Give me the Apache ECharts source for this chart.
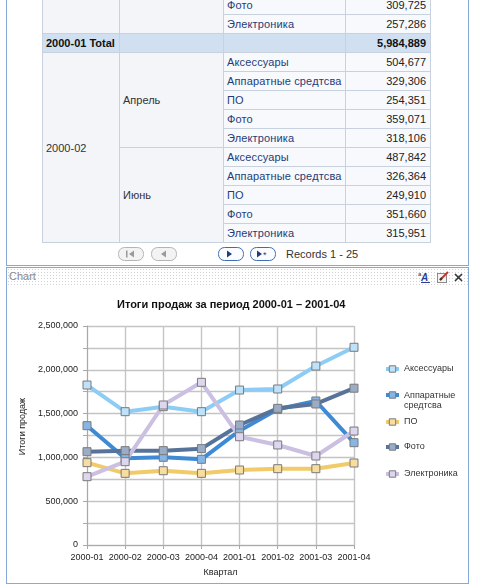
<!DOCTYPE html>
<html>
<head>
<meta charset="utf-8">
<script src="https://cdn.jsdelivr.net/npm/echarts@6/dist/echarts.min.js"></script>
<style>
  html, body { margin: 0; padding: 0; width: 480px; height: 586px; overflow: hidden; background: #fff;
    font-family: 'Liberation Sans', Arial, sans-serif; }
  #tablePanel { position: absolute; left: 6px; top: -10px; width: 461px; height: 275px;
    border: 1px solid #84a9d6; border-top: none; }
  #tbl { position: absolute; left: 42px; top: -5px; width: 388px; border-collapse: collapse;
    table-layout: fixed; font-size: 11px; color: #222; }
  #tbl td { height: 18px; padding: 0 3px; border: 1px solid #c8d1de; white-space: nowrap; overflow: hidden;
    background: #f8f9fc; }
  #tbl td.hd { background: #f3f5f9; color: #333; }
  #tbl td.pr { color: #1f3c78; letter-spacing: 0.15px; }
  #tbl td.num { text-align: right; padding-right: 4px; }
  #tbl tr.total td { background: #d0e0f1; font-weight: bold; color: #111; }
  .btn { position: absolute; top: 247px; }
  #records { position: absolute; left: 286px; top: 247px; font-size: 11px; color: #333; line-height: 14px; }
  #chartPanel { position: absolute; left: 6px; top: 267px; width: 461px; height: 315px;
    border: 1px solid #84a9d6; border-bottom: 1px solid #a9a59b; }
  #chartHead { position: absolute; left: 0; top: 0; width: 461px; height: 17px;
    background-image: radial-gradient(#d3d3d3 0.6px, transparent 0.9px); background-size: 3px 3px; }
  #chartHead span { position: absolute; left: 2px; top: 2px; font-size: 11px; color: #8a8a8a; }
  .ico { position: absolute; top: 3px; }
  #chart { position: absolute; left: 0; top: 286px; width: 480px; height: 297px; }
</style>
</head>
<body>
<div id="tablePanel"></div>
<table id="tbl">
  <colgroup><col style="width:77px"><col style="width:104px"><col style="width:122px"><col style="width:85px"></colgroup>
  <tbody id="tblBody"></tbody>
</table>
<div id="pager"></div>
<div id="records">Records 1 - 25</div>
<div id="chartPanel">
  <div id="chartHead"><span>Chart</span>
    <svg class="ico" style="left:411px" width="13" height="12">
      <text x="0" y="5" font-size="6" font-family="Liberation Sans" fill="#333">a</text>
      <text x="3" y="10" font-size="10" font-style="italic" font-weight="bold" font-family="Liberation Sans" fill="#2c3f8c">A</text>
      <line x1="3" y1="11.5" x2="12" y2="11.5" stroke="#2c3f8c" stroke-width="1"/>
    </svg>
    <svg class="ico" style="left:429px" width="13" height="12">
      <rect x="1.5" y="2.5" width="9" height="9" fill="#f4f4f4" stroke="#8a8a8a"/>
      <line x1="4" y1="9" x2="12" y2="1" stroke="#c0392b" stroke-width="2"/>
      <line x1="4" y1="9" x2="6" y2="7" stroke="#333" stroke-width="2"/>
    </svg>
    <svg class="ico" style="left:446px" width="11" height="12">
      <line x1="2" y1="3" x2="9" y2="10" stroke="#333" stroke-width="1.6"/>
      <line x1="9" y1="3" x2="2" y2="10" stroke="#333" stroke-width="1.6"/>
    </svg>
  </div>
</div>
<div id="chart"></div>
<script>
// table values
const topRows = [['Фото', 309725], ['Электроника', 257286]];
const totalLabel = '2000-01 Total';
const totalValue = 5984889;
const quarterLabel = '2000-02';
const months = ['Апрель', 'Июнь'];
const products = ['Аксессуары', 'Аппаратные средтсва', 'ПО', 'Фото', 'Электроника'];
const aprilSales = [504677, 329306, 254351, 359071, 318106];
const juneSales = [487842, 326364, 249910, 351660, 315951];

// chart values
const chartTitle = 'Итоги продаж за период 2000-01 – 2001-04';
const quarters = ['2000-01', '2000-02', '2000-03', '2000-04', '2001-01', '2001-02', '2001-03', '2001-04'];
const seriesNames = ['Аксессуары', 'Аппаратные средтсва', 'ПО', 'Фото', 'Электроника'];
const accessories = [1826000, 1522000, 1579000, 1522000, 1769000, 1781000, 2043000, 2257000];
const hardware = [1362000, 990000, 1001000, 978000, 1305000, 1549000, 1644000, 1168000];
const software = [940000, 818000, 848000, 818000, 856000, 871000, 871000, 936000];
const photo = [1065000, 1077000, 1077000, 1100000, 1370000, 1560000, 1610000, 1790000];
const electronics = [780000, 951000, 1598000, 1857000, 1236000, 1142000, 1016000, 1301000];
const yTicks = [0, 500000, 1000000, 1500000, 2000000, 2500000];

const fmt = v => String(v).replace(/\B(?=(\d{3})+(?!\d))/g, ',');

// build the table
let html = '';
topRows.forEach((r, i) => {
  html += '<tr>';
  if (i === 0) html += '<td class="hd" rowspan="2"></td><td class="hd" rowspan="2"></td>';
  html += '<td class="pr">' + r[0] + '</td><td class="num">' + fmt(r[1]) + '</td></tr>';
});
html += '<tr class="total"><td>' + totalLabel + '</td><td></td><td></td><td class="num">' + fmt(totalValue) + '</td></tr>';
[aprilSales, juneSales].forEach((vals, m) => {
  products.forEach((p, i) => {
    html += '<tr>';
    if (m === 0 && i === 0) html += '<td class="hd" rowspan="10">' + quarterLabel + '</td>';
    if (i === 0) html += '<td class="hd" rowspan="5">' + months[m] + '</td>';
    html += '<td class="pr">' + p + '</td><td class="num">' + fmt(vals[i]) + '</td></tr>';
  });
});
document.getElementById('tblBody').innerHTML = html;

// pager buttons
const makeBtn = (left, glyph, active) => {
  const stroke = active ? '#3d6db5' : '#b4b4b4';
  const fill = active ? '#fbfcff' : '#f3f3f3';
  const ink = active ? '#1e3d7c' : '#9a9a9a';
  let g = '';
  if (glyph === 'first') g = '<rect x="8" y="3.5" width="1.5" height="7" fill="' + ink + '"/><polygon points="16,3.5 16,10.5 11,7" fill="' + ink + '"/>';
  if (glyph === 'prev') g = '<polygon points="15,3.5 15,10.5 10,7" fill="' + ink + '"/>';
  if (glyph === 'next') g = '<polygon points="9,3.5 9,10.5 14,7" fill="' + ink + '"/>';
  if (glyph === 'last') g = '<polygon points="7,3.5 7,10.5 12,7" fill="' + ink + '"/><text x="13" y="11" font-size="9" font-family="Liberation Sans" fill="' + ink + '">*</text>';
  return '<svg class="btn" style="left:' + left + 'px" width="27" height="14">' +
    '<rect x="0.5" y="0.5" width="25" height="13" rx="6" fill="' + fill + '" stroke="' + stroke + '"/>' + g + '</svg>';
};
document.getElementById('pager').innerHTML =
  makeBtn(118, 'first', false) + makeBtn(151, 'prev', false) + makeBtn(218, 'next', true) + makeBtn(250, 'last', true);

// chart
const lineColors = ['#8dcdf5', '#3f8ad4', '#f1ca6a', '#587399', '#cbbfe2'];
const markFills = ['#bde2f9', '#86b6e6', '#f7dd9f', '#9badc6', '#ded6ee'];
const seriesData = [accessories, hardware, software, photo, electronics];
const legendTops = [77.5, 92.5, 130.5, 155.5, 182.5];
const font = "'Liberation Sans', Arial, sans-serif";
const gridLine = { color: '#c4c4c4', width: 1.4 };

const chart = echarts.init(document.getElementById('chart'));
chart.setOption({
  animation: false,
  textStyle: { fontFamily: font },
  title: {
    text: chartTitle, left: 112, top: 8,
    textStyle: { fontSize: 11, fontWeight: 'bold', color: '#111', fontFamily: font }
  },
  grid: { left: 87, right: 126, top: 40, bottom: 38 },
  legend: seriesNames.map((n, i) => ({
    data: [n], left: 384, top: legendTops[i], orient: 'vertical', padding: 0,
    itemWidth: 13, itemHeight: 8,
    lineStyle: { color: lineColors[i], width: 4 },
    itemStyle: { color: markFills[i], borderColor: '#7a7a7a', borderWidth: 1 },
    // the two-word name wraps; its icon sits on the first line
    formatter: i === 1 ? (s => '{a|' + s.split(' ')[0] + '}\n{b|' + s.split(' ')[1] + '}') : '{name}',
    textStyle: {
      fontSize: 9, color: '#333', lineHeight: 11, fontFamily: font,
      rich: {
        a: { fontSize: 9, color: '#333', lineHeight: 22, verticalAlign: 'bottom', fontFamily: font },
        b: { fontSize: 9, color: '#333', lineHeight: 11, fontFamily: font }
      }
    }
  })),
  xAxis: {
    type: 'category', data: quarters, boundaryGap: false,
    name: 'Квартал', nameLocation: 'middle', nameGap: 23,
    nameTextStyle: { fontSize: 9, color: '#222' },
    axisLine: { lineStyle: { color: '#a9a9a9' } },
    axisTick: { show: true, length: 4, lineStyle: { color: '#a9a9a9' } },
    axisLabel: { fontSize: 9, color: '#222', margin: 8, interval: 0 },
    splitLine: { show: true, lineStyle: gridLine }
  },
  yAxis: {
    type: 'value', min: yTicks[0], max: yTicks[yTicks.length - 1], interval: yTicks[1] - yTicks[0],
    name: 'Итоги продаж', nameLocation: 'middle', nameGap: 60,
    nameTextStyle: { fontSize: 9, color: '#222', padding: [0, 0, 0, 18] },
    axisLine: { show: true, lineStyle: { color: '#a9a9a9' } },
    axisTick: { show: true, length: 4, lineStyle: { color: '#a9a9a9' } },
    minorTick: { show: true, splitNumber: 2, length: 4, lineStyle: { color: '#a9a9a9' } },
    minorSplitLine: { show: true, lineStyle: gridLine },
    splitLine: { show: true, lineStyle: gridLine },
    axisLabel: { fontSize: 9, color: '#222', margin: 9, formatter: v => fmt(v) }
  },
  series: seriesNames.map((n, i) => ({
    name: n, type: 'line', data: seriesData[i],
    symbol: 'rect', symbolSize: 8, showSymbol: true,
    lineStyle: { color: lineColors[i], width: 4 },
    itemStyle: { color: markFills[i], borderColor: '#7a7a7a', borderWidth: 1 }
  }))
});
</script>
</body>
</html>
